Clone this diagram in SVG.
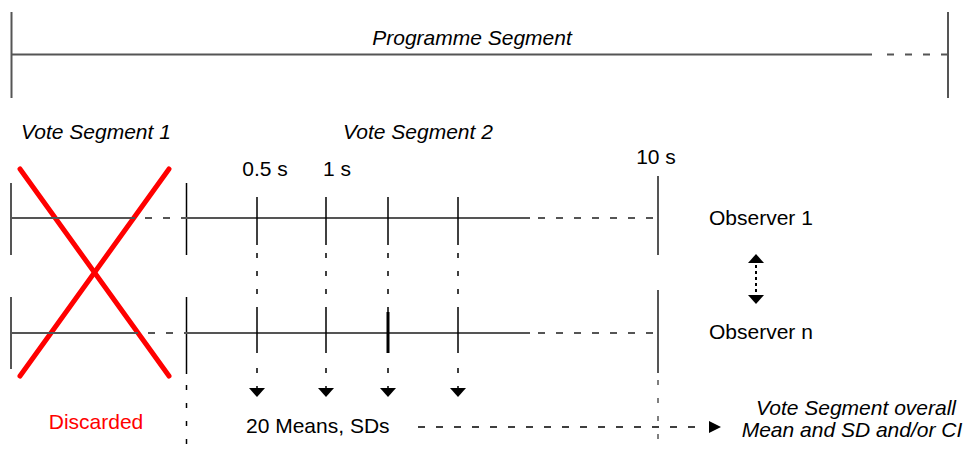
<svg xmlns="http://www.w3.org/2000/svg" width="967" height="454" viewBox="0 0 967 454">
<style>
text{font-family:"Liberation Sans",Arial,sans-serif;font-size:21px;fill:#000}
.it{font-style:italic}
.g{stroke:#555;stroke-width:2;fill:none}
.gd{stroke:#555;stroke-width:2;fill:none;stroke-dasharray:7 11}
.k{stroke:#000;stroke-width:1.5;fill:none}
.kd{stroke:#000;stroke-width:1.5;fill:none;stroke-dasharray:5 13}
.ah{fill:#000}
.red{stroke:#ff0000;stroke-width:5;stroke-linecap:round;fill:none}
</style>
<rect width="967" height="454" fill="#fff"/>
<g id="programme-segment">
<line class="g" x1="11.5" y1="12" x2="11.5" y2="98"/>
<line class="g" x1="948" y1="12" x2="948" y2="98"/>
<line class="g" x1="11" y1="54.5" x2="872" y2="54.5"/>
<line class="gd" x1="887" y1="54.5" x2="948" y2="54.5"/>
<text class="it" x="472" y="45" text-anchor="middle">Programme Segment</text>
</g>
<g id="vote-segment-1">
<text class="it" x="96" y="139" text-anchor="middle">Vote Segment 1</text>
<line class="g" x1="11" y1="183" x2="11" y2="255"/>
<line class="g" x1="11" y1="297" x2="11" y2="369"/>
<line class="red" x1="20" y1="169" x2="169" y2="376"/>
<line class="red" x1="169" y1="169" x2="20" y2="376"/>
<text x="96" y="429" text-anchor="middle" style="fill:#ff0000">Discarded</text>
</g>
<g id="vote-segment-2">
<text class="it" x="418" y="139" text-anchor="middle">Vote Segment 2</text>
<text x="265" y="176" text-anchor="middle">0.5 s</text>
<text x="337" y="176" text-anchor="middle">1 s</text>
<text x="656" y="164" text-anchor="middle">10 s</text>
<line class="k" x1="186.5" y1="183" x2="186.5" y2="255"/>
<line class="k" x1="186.5" y1="297" x2="186.5" y2="374"/>
<line class="kd" x1="186.5" y1="385" x2="186.5" y2="446"/>
<line class="g" x1="658" y1="176" x2="658" y2="255"/>
<line class="g" x1="658" y1="290" x2="658" y2="373"/>
<line class="kd" x1="658" y1="380" x2="658" y2="446" style="stroke:#555"/>
</g>
<g id="observer-1">
<line class="g" x1="11" y1="218" x2="135" y2="218"/>
<line class="gd" x1="145" y1="218" x2="186" y2="218"/>
<line class="g" x1="186" y1="218" x2="530" y2="218"/>
<line class="gd" x1="538" y1="218" x2="658" y2="218"/>
<text x="709" y="225">Observer 1</text>
</g>
<g id="observer-n">
<line class="g" x1="11" y1="333" x2="138" y2="333"/>
<line class="gd" x1="148" y1="333" x2="186" y2="333"/>
<line class="g" x1="186" y1="333" x2="530" y2="333"/>
<line class="gd" x1="538" y1="333" x2="658" y2="333"/>
<text x="709" y="339">Observer n</text>
</g>
<g id="means">
<text x="246" y="433">20 Means, SDs</text>
</g>
<g id="overall">
<text class="it" x="856" y="415" text-anchor="middle">Vote Segment overall</text>
<text class="it" x="852" y="437" text-anchor="middle">Mean and SD and/or CI</text>
</g>
<g id="connectors">
<g id="t1">
<line class="k" x1="257" y1="197" x2="257" y2="245"/>
<line class="kd" x1="257" y1="253" x2="257" y2="312"/>
<line class="k" x1="257" y1="312" x2="257" y2="353"/>
<line class="kd" x1="257" y1="368" x2="257" y2="390"/>
<polygon class="ah" points="249,388 265,388 257,397"/>
</g>
<g id="t2">
<line class="k" x1="326" y1="197" x2="326" y2="245"/>
<line class="kd" x1="326" y1="253" x2="326" y2="312"/>
<line class="k" x1="326" y1="312" x2="326" y2="353"/>
<line class="kd" x1="326" y1="368" x2="326" y2="390"/>
<polygon class="ah" points="318,388 334,388 326,397"/>
</g>
<g id="t3">
<line class="k" x1="388" y1="197" x2="388" y2="245"/>
<line class="kd" x1="388" y1="253" x2="388" y2="312"/>
<line x1="388" y1="312" x2="388" y2="353" stroke="#000" stroke-width="3"/>
<line class="kd" x1="388" y1="368" x2="388" y2="390"/>
<polygon class="ah" points="380,388 396,388 388,397"/>
</g>
<g id="t4">
<line class="k" x1="458" y1="197" x2="458" y2="245"/>
<line class="kd" x1="458" y1="253" x2="458" y2="312"/>
<line class="k" x1="458" y1="312" x2="458" y2="353"/>
<line class="kd" x1="458" y1="368" x2="458" y2="390"/>
<polygon class="ah" points="450,388 466,388 458,397"/>
</g>
<g id="observer-range">
<polygon class="ah" points="756,254 748,263 764,263"/>
<line x1="756" y1="265" x2="756" y2="294" stroke="#000" stroke-width="2" stroke-dasharray="3 3"/>
<polygon class="ah" points="748,295 764,295 756,304"/>
</g>
<g id="to-overall">
<line class="kd" x1="418" y1="427" x2="706" y2="427" style="stroke-dasharray:7 11"/>
<polygon class="ah" points="709,421 709,433 721,427"/>
</g>
</g>
</svg>
